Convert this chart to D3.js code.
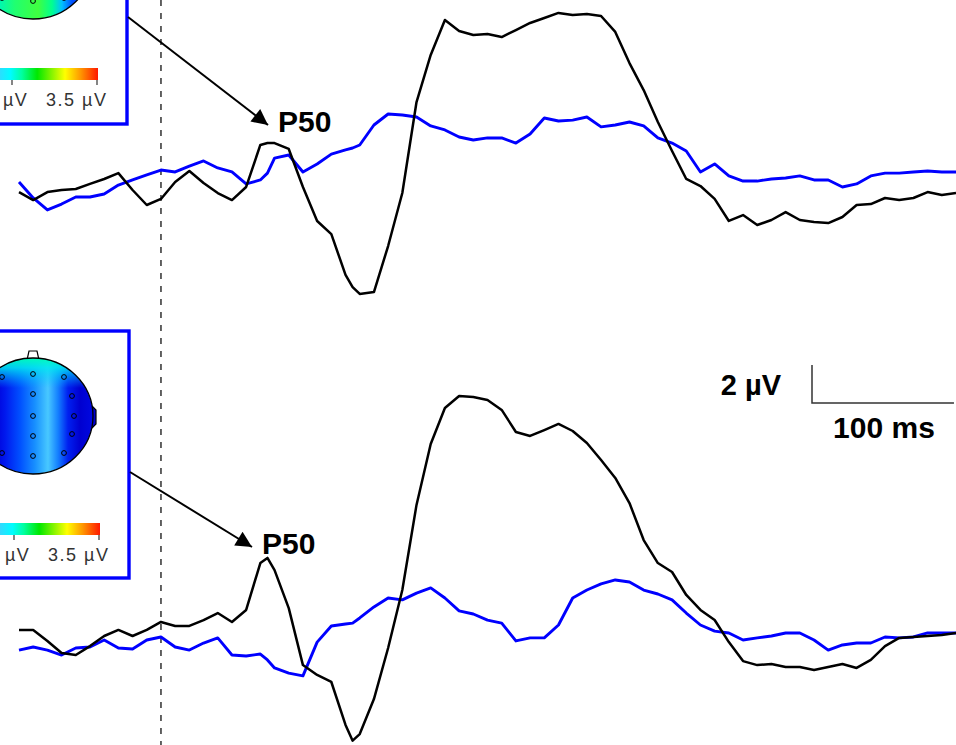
<!DOCTYPE html>
<html>
<head>
<meta charset="utf-8">
<script src="https://d3js.org/d3.v7.min.js"></script>
<style>
  html, body { margin: 0; padding: 0; background: #fff; }
  svg { display: block; }
  text { font-family: "Liberation Sans", Arial, Helvetica, sans-serif; }
</style>
</head>
<body>
<div id="chart"></div>
<script>
// time points (ms), shared by all four traces
const times = [-100, -90, -80, -70, -60, -50, -40, -30, -20, -10,
  0, 10, 20, 30, 40, 50, 60, 70, 75, 80, 90,
  100, 110, 120, 130, 135, 140, 150, 160, 170, 180, 190,
  200, 210, 220, 230, 240, 250, 260, 270, 280, 290,
  300, 310, 320, 330, 340, 350, 360, 370, 380, 390,
  400, 410, 420, 430, 440, 450, 460, 470, 480, 490,
  500, 510, 520, 530, 540, 550, 560];

// upper panel (µV)
const topBlack = [-0.11, -0.53, -0.11, 0, 0.05, 0.32, 0.58, 0.89, 0, -0.79,
  -0.47, 0.42, 1.0, 0.37, -0.16, -0.53, 0.16, 2.37, 2.47, 2.47, 2.16,
  0.16, -1.63, -2.32, -4.47, -5.11, -5.47, -5.37, -2.95, -0.16, 4.63, 7.11,
  8.95, 8.37, 8.16, 8.21, 8.05, 8.42, 8.79, 9.05, 9.32, 9.21,
  9.26, 9.16, 8.32, 6.68, 5.26, 3.58, 2.05, 0.58, 0.21, -0.47,
  -1.63, -1.32, -1.84, -1.58, -1.16, -1.58, -1.68, -1.74, -1.42, -0.79,
  -0.74, -0.42, -0.53, -0.42, -0.11, -0.26, -0.16];
const topBlue = [0.42, -0.42, -1.05, -0.74, -0.37, -0.37, -0.21, 0.26, 0.53, 0.79,
  1.05, 0.95, 1.26, 1.53, 1.16, 0.95, 0.32, 0.53, 0.89, 1.68, 1.84,
  0.95, 1.37, 1.89, 2.11, 2.21, 2.37, 3.42, 4.0, 3.95, 3.84, 3.37,
  3.16, 2.79, 2.63, 2.74, 2.74, 2.47, 2.95, 3.79, 3.63, 3.68,
  3.84, 3.32, 3.42, 3.58, 3.37, 2.74, 2.47, 2.05, 0.95, 1.37,
  0.74, 0.47, 0.47, 0.58, 0.63, 0.74, 0.53, 0.53, 0.16, 0.32,
  0.74, 0.89, 0.89, 0.95, 1.0, 0.95, 0.95];

// lower panel (µV)
const botBlack = [0.53, 0.53, -0.05, -0.68, -0.79, -0.32, 0.21, 0.53, 0.21, 0.53,
  0.95, 0.74, 0.74, 1.05, 1.42, 0.95, 1.58, 4.05, 4.32, 3.68, 1.68,
  -1.32, -1.84, -2.21, -4.47, -5.3, -4.95, -3.11, -0.42, 2.63, 7.11, 10.32,
  12.21, 12.84, 12.79, 12.63, 12.11, 10.95, 10.74, 11.05, 11.37, 11.0,
  10.37, 9.47, 8.53, 7.21, 5.26, 4.05, 3.58, 2.37, 1.58, 1.05,
  -0.11, -1.11, -1.32, -1.26, -1.42, -1.42, -1.58, -1.42, -1.26, -1.47,
  -1.05, -0.32, 0.11, 0.16, 0.21, 0.26, 0.37];
const botBlue = [-0.53, -0.37, -0.53, -0.79, -0.42, -0.37, 0, -0.42, -0.47, 0,
  0.16, -0.37, -0.53, -0.16, 0.11, -0.79, -0.84, -0.74, -1.05, -1.47, -1.74,
  -1.89, -0.11, 0.74, 0.84, 0.89, 1.16, 1.74, 2.21, 2.11, 2.47, 2.74,
  2.21, 1.53, 1.37, 1.05, 0.89, -0.05, 0.11, 0.11, 0.79, 2.21,
  2.63, 2.95, 3.16, 3.05, 2.63, 2.42, 2.11, 1.42, 0.79, 0.47,
  0.37, 0, 0.11, 0.21, 0.37, 0.37, 0, -0.53, -0.26, -0.16,
  -0.16, 0.16, 0.11, 0.16, 0.37, 0.37, 0.37];

// head map colour bar: visible labels, tick values and colours
const barLabels = ["µV", "3.5 µV"];
const barValues = [0, 3.5];
const barColors = ["#40d0ff", "#00fcff", "#00ffa0", "#00e800", "#ffff00", "#ff9800", "#ff1800"];
const barOffsets = [0, 0.15, 0.26, 0.41, 0.68, 0.83, 1];

const width = 956, height = 745;

const svg = d3.select('#chart').append('svg')
  .attr('width', width)
  .attr('height', height)
  .style('background', '#fff');

const x = d3.scaleLinear().domain([-100, 560]).range([19, 956]);
// 19 px per µV, positive up
const yTop = d3.scaleLinear().domain([0, 1]).range([190, 171]);
const yBot = d3.scaleLinear().domain([0, 1]).range([640, 621]);

const defs = svg.append('defs');

const barGrad = defs.append('linearGradient').attr('id', 'barGrad');
barColors.forEach((c, i) => {
  barGrad.append('stop').attr('offset', barOffsets[i]).attr('stop-color', c);
});

// bottom head: mostly blue
const gBot = defs.append('linearGradient').attr('id', 'headBot')
  .attr('gradientUnits', 'userSpaceOnUse')
  .attr('x1', -26).attr('x2', 92).attr('y1', 0).attr('y2', 0);
[[-26, '#0030ff'], [-5, '#0000d8'], [5, '#0018ee'], [20, '#0050ff'], [35, '#1890ff'],
 [48, '#48c8ff'], [58, '#1480ff'], [68, '#0020f0'], [80, '#0000d0'], [92, '#0008e0']]
  .forEach(d => gBot.append('stop').attr('offset', (d[0] + 26) / 118).attr('stop-color', d[1]));
const gBotTop = defs.append('linearGradient').attr('id', 'headBotTop')
  .attr('gradientUnits', 'userSpaceOnUse')
  .attr('x1', 0).attr('x2', 0).attr('y1', 357).attr('y2', 388);
gBotTop.append('stop').attr('offset', 0).attr('stop-color', '#00ffb0').attr('stop-opacity', 1);
gBotTop.append('stop').attr('offset', 0.35).attr('stop-color', '#00e8f0').attr('stop-opacity', 0.85);
gBotTop.append('stop').attr('offset', 1).attr('stop-color', '#00c0ff').attr('stop-opacity', 0);

// top head: mostly green
const gTop = defs.append('linearGradient').attr('id', 'headTop')
  .attr('gradientUnits', 'userSpaceOnUse')
  .attr('x1', -26).attr('x2', 92).attr('y1', 0).attr('y2', 0);
[[-26, '#00e0ff'], [0, '#00f8b0'], [15, '#20ff70'], [38, '#40ff40'], [52, '#00ff90'],
 [62, '#00c0ff'], [72, '#0050ff'], [92, '#0030ff']]
  .forEach(d => gTop.append('stop').attr('offset', (d[0] + 26) / 118).attr('stop-color', d[1]));

// arrow head
defs.append('marker')
  .attr('id', 'arrow')
  .attr('markerUnits', 'userSpaceOnUse')
  .attr('viewBox', '0 0 10 10')
  .attr('refX', 10).attr('refY', 5)
  .attr('markerWidth', 22).attr('markerHeight', 16)
  .attr('orient', 'auto')
  .append('path')
  .attr('d', 'M0,0 L10,5 L0,10 z')
  .attr('fill', '#000');

// electrode layout relative to head centre
const electrodes = [[-31, -39], [0, -42], [31, -39], [0, -22], [39, -20], [-39, -20],
  [0, 0], [41, 0], [-41, 0], [0, 20], [39, 18], [-39, 18], [-31, 37], [0, 40], [31, 37]];

function headMap(cx, cy, fillId, topId, boxY0, boxY1, boxX1, barY, labelY, arrow) {
  const g = svg.append('g');
  const clipId = 'clip' + (cy < 0 ? 'a' : 'b');
  defs.append('clipPath').attr('id', clipId)
    .append('ellipse').attr('cx', cx).attr('cy', cy).attr('rx', 60).attr('ry', 58);

  // nose and ear
  g.append('path')
    .attr('d', `M${cx - 6},${cy - 56} L${cx - 4},${cy - 65} L${cx + 4},${cy - 65} L${cx + 6},${cy - 56}`)
    .attr('fill', '#fff').attr('stroke', '#000').attr('stroke-width', 1.2);
  g.append('path')
    .attr('d', `M${cx + 59},${cy - 10} L${cx + 63},${cy - 6} L${cx + 63},${cy + 8} L${cx + 59},${cy + 12}`)
    .attr('fill', '#0000d0').attr('stroke', '#000').attr('stroke-width', 1.2);

  g.append('ellipse').attr('cx', cx).attr('cy', cy).attr('rx', 60).attr('ry', 58)
    .attr('fill', `url(#${fillId})`);
  if (topId) {
    g.append('rect').attr('x', cx - 70).attr('y', cy - 60).attr('width', 140).attr('height', 40)
      .attr('clip-path', `url(#${clipId})`)
      .attr('fill', `url(#${topId})`);
  }
  g.append('ellipse').attr('cx', cx).attr('cy', cy).attr('rx', 60).attr('ry', 58)
    .attr('fill', 'none').attr('stroke', '#000').attr('stroke-width', 1.3);

  g.selectAll('circle.el').data(electrodes).join('circle')
    .attr('class', 'el')
    .attr('cx', d => cx + d[0]).attr('cy', d => cy + d[1]).attr('r', 2.4)
    .attr('fill', 'none').attr('stroke', '#000').attr('stroke-width', 1);

  // colour bar (left part runs off the page)
  const bx = d3.scaleLinear().domain([0, 3.5]).range([boxX1 - 115, boxX1 - 30]);
  g.append('rect').attr('x', bx(0) - 17).attr('y', barY)
    .attr('width', bx(3.5) - bx(0) + 18).attr('height', 12)
    .attr('fill', 'url(#barGrad)');
  g.selectAll('line.tick').data(barValues).join('line')
    .attr('class', 'tick')
    .attr('x1', d => bx(d)).attr('x2', d => bx(d))
    .attr('y1', barY + 12).attr('y2', barY + 17)
    .attr('stroke', '#333').attr('stroke-width', 1.2);
  g.selectAll('text.bl').data(barLabels).join('text')
    .attr('class', 'bl')
    .attr('x', (d, i) => i === 0 ? bx(0) - 9 : bx(3.5) - 51)
    .attr('y', labelY)
    .attr('font-size', 18)
    .attr('letter-spacing', 1.5)
    .attr('fill', '#333')
    .text(d => d);

  // blue frame
  g.append('rect').attr('x', -10).attr('y', boxY0)
    .attr('width', boxX1 + 10).attr('height', boxY1 - boxY0)
    .attr('fill', 'none').attr('stroke', '#0000ff').attr('stroke-width', 3.4);

  // arrow to P50
  svg.append('line')
    .attr('x1', arrow[0]).attr('y1', arrow[1]).attr('x2', arrow[2]).attr('y2', arrow[3])
    .attr('stroke', '#000').attr('stroke-width', 2)
    .attr('marker-end', 'url(#arrow)');
  svg.append('text')
    .attr('x', arrow[2] + 10).attr('y', arrow[3] + 7)
    .attr('font-size', 30).attr('font-weight', 'bold')
    .text('P50');
}

// stimulus onset
svg.append('line')
  .attr('x1', x(0)).attr('x2', x(0))
  .attr('y1', 0).attr('y2', height)
  .attr('stroke', '#222').attr('stroke-width', 1.4)
  .attr('stroke-dasharray', '6,7');

headMap(33, -39, 'headTop', null, -20, 124, 127, 68, 106, [128, 17, 268, 125]);
headMap(33, 416, 'headBot', 'headBotTop', 331, 578, 129, 523, 561, [130, 472, 252, 547]);

// traces
const lineTop = d3.line().x((d, i) => x(times[i])).y(d => yTop(d)).curve(d3.curveLinear);
const lineBot = d3.line().x((d, i) => x(times[i])).y(d => yBot(d)).curve(d3.curveLinear);

[[topBlue, lineTop, '#0000ff', 2.9], [topBlack, lineTop, '#000', 2.5],
 [botBlue, lineBot, '#0000ff', 2.9], [botBlack, lineBot, '#000', 2.5]].forEach(([data, gen, col, sw]) => {
  svg.append('path')
    .datum(data)
    .attr('fill', 'none')
    .attr('stroke', col)
    .attr('stroke-width', sw)
    .attr('stroke-linejoin', 'round')
    .attr('d', gen);
});

// scale bar: 2 µV / 100 ms
const sbX = 812, sbY = 403;
const sbW = x(100) - x(0);
const sbH = yBot(0) - yBot(2);
svg.append('path')
  .attr('d', `M${sbX},${sbY - sbH} L${sbX},${sbY} L${sbX + sbW},${sbY}`)
  .attr('fill', 'none').attr('stroke', '#333').attr('stroke-width', 1.5);
svg.append('text')
  .attr('x', 781).attr('y', 395)
  .attr('text-anchor', 'end')
  .attr('font-size', 29).attr('font-weight', 'bold')
  .text('2 µV');
svg.append('text')
  .attr('x', sbX + sbW / 2 + 1).attr('y', 438)
  .attr('text-anchor', 'middle')
  .attr('font-size', 30).attr('font-weight', 'bold')
  .text('100 ms');
</script>
</body>
</html>
